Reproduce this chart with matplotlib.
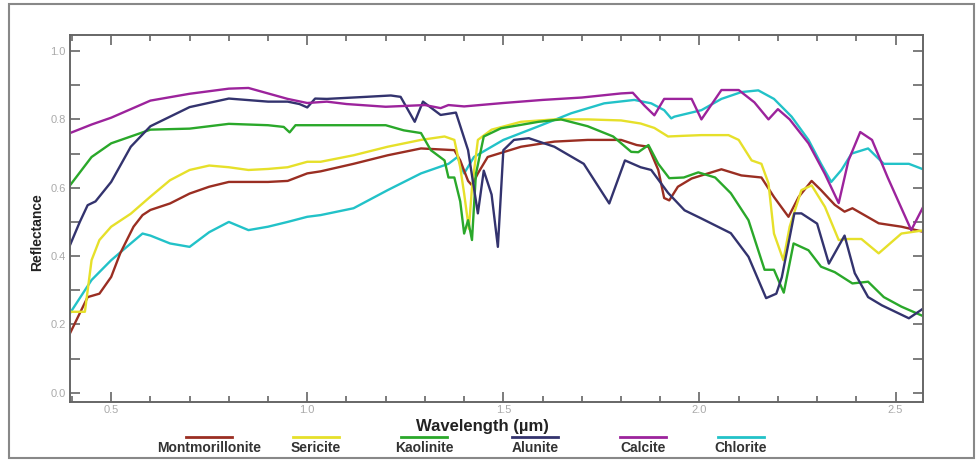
import matplotlib
matplotlib.use("Agg")
import matplotlib.pyplot as plt
from matplotlib.lines import Line2D
from matplotlib.patches import Rectangle
from matplotlib.ticker import MultipleLocator, FixedLocator, FixedFormatter

plt.rcParams['font.family'] = ['Liberation Sans', 'DejaVu Sans']

names = ["Montmorillonite", "Sericite", "Kaolinite", "Alunite", "Calcite", "Chlorite"]
colors = ["#9a2e22", "#e6e02a", "#2aa82a", "#33336e", "#9c239c", "#22c2c8"]

mont_x = [0.395, 0.44, 0.47, 0.50, 0.523, 0.557, 0.58, 0.60, 0.65, 0.70, 0.75, 0.80, 0.85, 0.90, 0.95, 1.00, 1.034,
          1.118, 1.205, 1.29, 1.375, 1.39, 1.41, 1.42, 1.435, 1.46, 1.545, 1.63, 1.715, 1.80, 1.84, 1.87, 1.895,
          1.91, 1.923, 1.945, 1.98, 2.005, 2.056, 2.107, 2.158, 2.19, 2.227, 2.253, 2.286, 2.31, 2.345, 2.37,
          2.39, 2.457, 2.515, 2.575]
mont_y = [0.174, 0.28, 0.29, 0.339, 0.408, 0.486, 0.52, 0.535, 0.554, 0.583, 0.603, 0.617, 0.617, 0.617, 0.62, 0.642, 0.648,
          0.67, 0.695, 0.715, 0.71, 0.68, 0.62, 0.607, 0.642, 0.69, 0.72, 0.735, 0.74, 0.74, 0.725, 0.72, 0.652,
          0.57, 0.563, 0.603, 0.627, 0.636, 0.654, 0.636, 0.63, 0.573, 0.515, 0.573, 0.62, 0.593, 0.55, 0.53,
          0.54, 0.496, 0.486, 0.47]

seri_x = [0.395, 0.433, 0.45, 0.47, 0.50, 0.55, 0.60, 0.65, 0.70, 0.75, 0.80, 0.85, 0.90, 0.95, 1.00, 1.034, 1.118,
          1.205, 1.29, 1.35, 1.375, 1.39, 1.40, 1.412, 1.42, 1.435, 1.47, 1.545, 1.63, 1.715, 1.80, 1.85, 1.885,
          1.92, 1.96, 2.005, 2.074, 2.10, 2.133, 2.158, 2.176, 2.19, 2.214, 2.23, 2.26, 2.286, 2.32, 2.355, 2.38,
          2.413, 2.457, 2.515, 2.575]
seri_y = [0.237, 0.237, 0.388, 0.447, 0.486, 0.524, 0.574, 0.622, 0.652, 0.665, 0.66, 0.652, 0.655, 0.66, 0.676, 0.676, 0.695,
          0.72, 0.74, 0.75, 0.74, 0.66, 0.583, 0.48, 0.60, 0.74, 0.77, 0.793, 0.80, 0.80, 0.797, 0.788, 0.775,
          0.75, 0.752, 0.754, 0.754, 0.74, 0.68, 0.67, 0.613, 0.466, 0.388, 0.486, 0.593, 0.607, 0.544, 0.447, 0.45,
          0.45, 0.408, 0.466, 0.476]

kaol_x = [0.395, 0.45, 0.50, 0.55, 0.60, 0.70, 0.80, 0.90, 0.94, 0.955, 0.97, 1.00, 1.10, 1.20, 1.246, 1.29, 1.315,
          1.35, 1.36, 1.375, 1.39, 1.40, 1.41, 1.42, 1.43, 1.45, 1.494, 1.59, 1.647, 1.715, 1.78, 1.826, 1.844,
          1.87, 1.895, 1.923, 1.96, 1.997, 2.04, 2.08, 2.125, 2.166, 2.19, 2.215, 2.24, 2.278, 2.31, 2.345,
          2.39, 2.43, 2.47, 2.515, 2.575]
kaol_y = [0.607, 0.69, 0.73, 0.75, 0.77, 0.773, 0.787, 0.783, 0.778, 0.762, 0.783, 0.783, 0.783, 0.783, 0.768, 0.76, 0.71,
          0.68, 0.63, 0.63, 0.56, 0.466, 0.505, 0.447, 0.64, 0.75, 0.774, 0.793, 0.80, 0.78, 0.75, 0.705, 0.704,
          0.725, 0.67, 0.628, 0.63, 0.645, 0.63, 0.584, 0.505, 0.36, 0.36, 0.293, 0.437, 0.417, 0.369, 0.353,
          0.32, 0.325, 0.28, 0.252, 0.222]

alun_x = [0.395, 0.42, 0.44, 0.46, 0.50, 0.55, 0.60, 0.70, 0.80, 0.90, 0.95, 0.98, 1.00, 1.02, 1.05, 1.15, 1.213,
          1.238, 1.274, 1.295, 1.34, 1.379, 1.41, 1.435, 1.45, 1.47, 1.486, 1.50, 1.527, 1.565, 1.63, 1.705,
          1.77, 1.81, 1.85, 1.877, 1.92, 1.962, 2.005, 2.08, 2.125, 2.17, 2.196, 2.21, 2.242, 2.26, 2.30, 2.33,
          2.37, 2.396, 2.43, 2.465, 2.534, 2.575]
alun_y = [0.432, 0.50, 0.549, 0.56, 0.617, 0.72, 0.78, 0.836, 0.861, 0.852, 0.852, 0.845, 0.835, 0.861, 0.86, 0.866, 0.87,
          0.866, 0.793, 0.852, 0.813, 0.82, 0.71, 0.525, 0.65, 0.58, 0.427, 0.71, 0.74, 0.745, 0.72, 0.67,
          0.554, 0.68, 0.66, 0.652, 0.585, 0.534, 0.51, 0.467, 0.398, 0.277, 0.29, 0.338, 0.525, 0.525, 0.495, 0.378,
          0.46, 0.35, 0.28, 0.256, 0.218, 0.25]

calc_x = [0.395, 0.45, 0.50, 0.55, 0.60, 0.70, 0.80, 0.85, 0.90, 0.95, 1.00, 1.05, 1.10, 1.20, 1.30, 1.34, 1.36,
          1.40, 1.50, 1.60, 1.70, 1.80, 1.83, 1.86, 1.885, 1.91, 1.98, 2.005, 2.056, 2.10, 2.14, 2.176, 2.20,
          2.23, 2.278, 2.32, 2.355, 2.38, 2.41, 2.44, 2.48, 2.54, 2.575]
calc_y = [0.76, 0.785, 0.805, 0.83, 0.855, 0.875, 0.89, 0.892, 0.876, 0.86, 0.848, 0.852, 0.845, 0.837, 0.842, 0.833, 0.842,
          0.838, 0.848, 0.857, 0.864, 0.876, 0.878, 0.84, 0.812, 0.86, 0.86, 0.80, 0.886, 0.886, 0.85, 0.80, 0.83,
          0.80, 0.73, 0.64, 0.555, 0.68, 0.763, 0.74, 0.63, 0.476, 0.554]

chlo_x = [0.395, 0.45, 0.50, 0.55, 0.58, 0.60, 0.65, 0.70, 0.75, 0.80, 0.85, 0.90, 0.95, 1.00, 1.034, 1.118, 1.205,
          1.29, 1.36, 1.383, 1.40, 1.425, 1.50, 1.59, 1.673, 1.757, 1.834, 1.877, 1.91, 1.928, 1.936, 2.005,
          2.056, 2.107, 2.15, 2.19, 2.235, 2.278, 2.31, 2.336, 2.362, 2.388, 2.43, 2.47, 2.534, 2.575]
chlo_y = [0.233, 0.33, 0.388, 0.437, 0.466, 0.46, 0.437, 0.427, 0.47, 0.50, 0.476, 0.486, 0.50, 0.515, 0.52, 0.54, 0.593,
          0.642, 0.67, 0.69, 0.642, 0.69, 0.74, 0.78, 0.818, 0.847, 0.857, 0.847, 0.827, 0.803, 0.808, 0.827,
          0.86, 0.88, 0.885, 0.86, 0.808, 0.74, 0.67, 0.617, 0.652, 0.70, 0.715, 0.67, 0.67, 0.652]

series = [(mont_x, mont_y), (seri_x, seri_y), (kaol_x, kaol_y), (alun_x, alun_y), (calc_x, calc_y), (chlo_x, chlo_y)]
x_ticks = [0.5, 1.0, 1.5, 2.0, 2.5]
x_tick_labels = ["0.5", "1.0", "1.5", "2.0", "2.5"]
y_ticks = [0.0, 0.2, 0.4, 0.6, 0.8, 1.0]
y_tick_labels = ["0.0", "0.2", "0.4", "0.6", "0.8", "1.0"]

fig = plt.figure(figsize=(9.8, 4.61), dpi=100)
ax = fig.add_axes([70/980, 1-402/461, (923-70)/980, (402-35)/461])

draw_order = [5, 0, 1, 2, 3, 4]
for i in draw_order:
    xs, ys = series[i]
    ax.plot(xs, ys, color=colors[i], lw=1.7, solid_joinstyle='round')

ax.set_xlim(0.395, 2.57)
ax.set_ylim(-0.027, 1.047)
ax.xaxis.set_major_locator(FixedLocator(x_ticks))
ax.xaxis.set_major_formatter(FixedFormatter(x_tick_labels))
ax.xaxis.set_minor_locator(MultipleLocator(0.1))
ax.yaxis.set_major_locator(FixedLocator(y_ticks))
ax.yaxis.set_major_formatter(FixedFormatter(y_tick_labels))
ax.yaxis.set_minor_locator(MultipleLocator(0.1))
ax.tick_params(axis='both', which='both', direction='in', top=True, right=True, color='#666666', width=1.2)
ax.tick_params(axis='x', which='major', length=7, labelsize=8, labelcolor='#aaaaaa', pad=2)
ax.tick_params(axis='x', which='minor', length=4)
ax.tick_params(axis='y', which='major', length=7, labelsize=8, labelcolor='#aaaaaa', pad=3)
ax.tick_params(axis='y', which='minor', length=7)
for s in ax.spines.values():
    s.set_color('#666666')
    s.set_linewidth(1.4)

fig.text(482/980, 1-426/461, "Wavelength (µm)", ha='center', va='center', fontsize=12, fontweight='bold', color='#222222')
fig.text(37/980, 1-232/461, "Reflectance", ha='center', va='center', rotation=90, fontsize=10, fontweight='bold', color='#222222')

legend_centers = [209, 316, 424, 535, 643, 741]
for name, col, cx in zip(names, colors, legend_centers):
    fig.add_artist(Line2D([(cx-23)/980, (cx+23)/980], [1-437/461, 1-437/461], color=col, lw=2, transform=fig.transFigure))
    fig.text(cx/980, 1-448/461, name, ha='center', va='center', fontsize=10, fontweight='bold', color='#333333')

fig.add_artist(Rectangle((9/980, 1-458/461), (974-9)/980, (458-4)/461, transform=fig.transFigure,
                         fill=False, edgecolor='#888888', lw=1.5))

fig.savefig("out.png", dpi=100)
